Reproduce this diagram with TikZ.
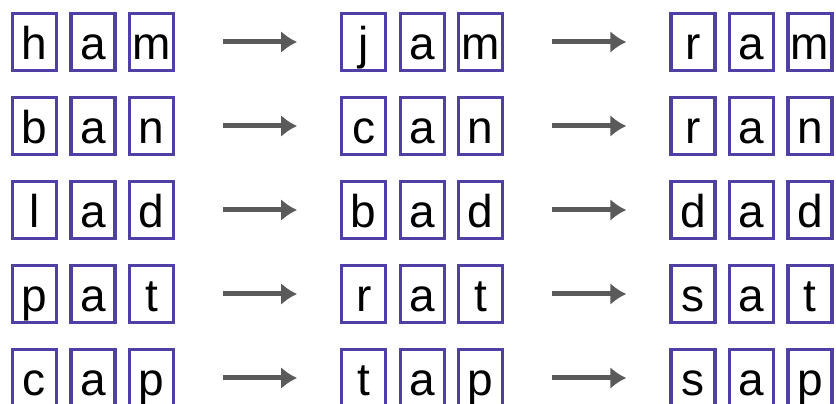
\documentclass[tikz,border=0pt]{standalone}
\usepackage{fontspec}
\setmainfont{Liberation Sans}
\usepackage{tikz}
\usetikzlibrary{arrows.meta}
\definecolor{tileblue}{RGB}{80,64,165}
\definecolor{flowgray}{RGB}{90,90,90}

\begin{document}
\begin{tikzpicture}[x=1pt,y=1pt,
  tile/.style={draw=tileblue, line width=3.2pt, minimum width=44pt, minimum height=57pt,
    inner sep=0pt, text height=40pt, text depth=4pt, font=\fontsize{46}{46}\selectfont},
  flow/.style={draw=flowgray, line width=5pt, -{Latex[length=16pt,width=22pt]},
    shorten <=48pt, shorten >=43pt}]
  \useasboundingbox (0,0) rectangle (836,404);
  \foreach \r/\y/\word in {1/362/{h,a,m,j,a,m,r,a,m}, 2/278/{b,a,n,c,a,n,r,a,n},
    3/194/{l,a,d,b,a,d,d,a,d}, 4/110/{p,a,t,r,a,t,s,a,t}, 5/26/{c,a,p,t,a,p,s,a,p}}
  {
  \foreach \l [count=\k] in \word
  {
  \pgfmathtruncatemacro{\g}{int((\k-1)/3)}
  \pgfmathtruncatemacro{\m}{mod(\k-1,3)}
  \node[tile] (t\r-\k) at ({34.5+329.25*\g+58.5*\m}, \y) {\l};
  }
  \draw[flow] (t\r-3) -- (t\r-4);
  \draw[flow] (t\r-6) -- (t\r-7);
  }
\end{tikzpicture}
\end{document}
